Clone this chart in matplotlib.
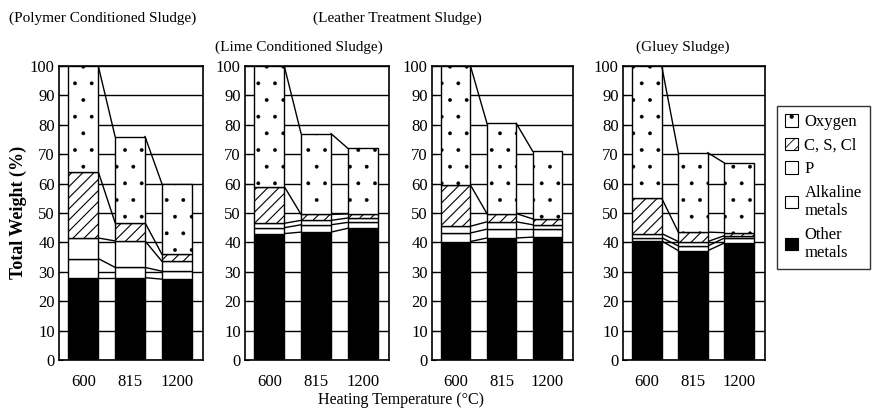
import matplotlib
matplotlib.use('Agg')
import matplotlib.pyplot as plt
from matplotlib.patches import Patch
import numpy as np

plt.rcParams['font.family'] = ['Liberation Serif', 'DejaVu Serif']
plt.rcParams['hatch.linewidth'] = 0.8

# ---------------- data ----------------
temps = ['600', '815', '1200']
titles = ['(Polymer Conditioned Sludge)', '(Lime Conditioned Sludge)',
          '(Leather Treatment Sludge)', '(Gluey Sludge)']
layer_names = ['Other\nmetals', 'Alkaline\nmetals', 'P', 'C, S, Cl', 'Oxygen']

polymer_other = [28.0, 28.0, 27.5]
polymer_alkaline = [6.5, 3.5, 2.7]
polymer_p = [7.0, 9.0, 3.4]
polymer_cscl = [22.5, 6.2, 2.4]
polymer_oxygen = [36.0, 29.3, 24.0]

lime_other = [43.0, 43.5, 44.8]
lime_alkaline = [2.0, 2.5, 2.0]
lime_p = [1.5, 1.5, 1.5]
lime_cscl = [12.5, 2.0, 1.4]
lime_oxygen = [41.0, 27.5, 22.3]

leather_other = [40.3, 41.5, 41.8]
leather_alkaline = [2.9, 3.0, 2.7]
leather_p = [2.3, 2.5, 1.5]
leather_cscl = [14.0, 2.8, 2.0]
leather_oxygen = [40.5, 30.7, 23.0]

gluey_other = [40.5, 37.2, 39.8]
gluey_alkaline = [1.1, 1.6, 1.7]
gluey_p = [1.4, 1.5, 0.8]
gluey_cscl = [12.0, 3.2, 1.0]
gluey_oxygen = [45.0, 27.0, 23.7]

panels = [
    [polymer_other, polymer_alkaline, polymer_p, polymer_cscl, polymer_oxygen],
    [lime_other, lime_alkaline, lime_p, lime_cscl, lime_oxygen],
    [leather_other, leather_alkaline, leather_p, leather_cscl, leather_oxygen],
    [gluey_other, gluey_alkaline, gluey_p, gluey_cscl, gluey_oxygen],
]

# ---------------- style ----------------
layer_face = ['black', 'white', 'white', 'white', 'white']
layer_hatch = [None, None, None, '///', '.']
layer_hlw = [0.8, 0.8, 0.8, 0.8, 0.3]

W, H = 877, 415
fig = plt.figure(figsize=(W / 100, H / 100), dpi=100)
panel_px = [(59, 203), (245, 389), (432, 573), (623, 765)]
bottom_px, top_px = 360, 66
bw = 0.64
x = np.arange(len(temps))

for (l, r), layers in zip(panel_px, panels):
    ax = fig.add_axes([l / W, 1 - bottom_px / H, (r - l) / W, (bottom_px - top_px) / H])
    cum = np.zeros(len(temps))
    for vals, fc, ht, hlw in zip(layers, layer_face, layer_hatch, layer_hlw):
        vals = np.asarray(vals, dtype=float)
        plt.rcParams['hatch.linewidth'] = hlw
        ax.bar(x, vals, bottom=cum, width=bw, color=fc, edgecolor='black',
               hatch=ht, linewidth=1.0, zorder=3)
        cum = cum + vals
        for i in range(len(x) - 1):
            ax.plot([x[i] + bw / 2, x[i + 1] - bw / 2], [cum[i], cum[i + 1]],
                    color='black', lw=1.0, zorder=3)
    ax.set_xlim(-0.52, 2.56)
    ax.set_ylim(0, 100)
    ax.set_yticks(range(0, 101, 10))
    ax.set_xticks(x)
    ax.set_xticklabels(temps)
    ax.set_axisbelow(True)
    ax.grid(axis='y', color='black', lw=1.0)
    ax.tick_params(axis='x', length=0, pad=10, labelsize=12)
    ax.tick_params(axis='y', direction='in', length=3, pad=3, labelsize=12)
    for s in ax.spines.values():
        s.set_linewidth(1.2)

plt.rcParams['hatch.linewidth'] = 0.8

# titles
fig.text(103 / W, 1 - 18 / H, titles[0], ha='center', va='center', fontsize=11)
fig.text(299 / W, 1 - 47 / H, titles[1], ha='center', va='center', fontsize=11)
fig.text(397 / W, 1 - 18 / H, titles[2], ha='center', va='center', fontsize=11)
fig.text(683 / W, 1 - 47 / H, titles[3], ha='center', va='center', fontsize=11)

fig.text(18 / W, 1 - 212 / H, 'Total Weight (%)', rotation=90, ha='center',
         va='center', fontsize=13, fontweight='bold')
fig.text(401 / W, 1 - 400 / H, 'Heating Temperature (°C)', ha='center',
         va='center', fontsize=11.5)

plt.rcParams['hatch.linewidth'] = 0.6
handles = [Patch(facecolor=layer_face[k], edgecolor='black', hatch=layer_hatch[k],
                 label=layer_names[k], linewidth=0.8) for k in [4, 3, 2, 1, 0]]
leg = fig.legend(handles=handles, loc='upper left',
                 bbox_to_anchor=(777 / W, 1 - 106 / H), borderaxespad=0,
                 fontsize=12, handlelength=0.75, handleheight=0.75,
                 handletextpad=0.4, labelspacing=0.45, frameon=True,
                 fancybox=False, edgecolor='black', borderpad=0.5)
leg.get_frame().set_linewidth(1.0)

fig.savefig('out.png', dpi=100)
